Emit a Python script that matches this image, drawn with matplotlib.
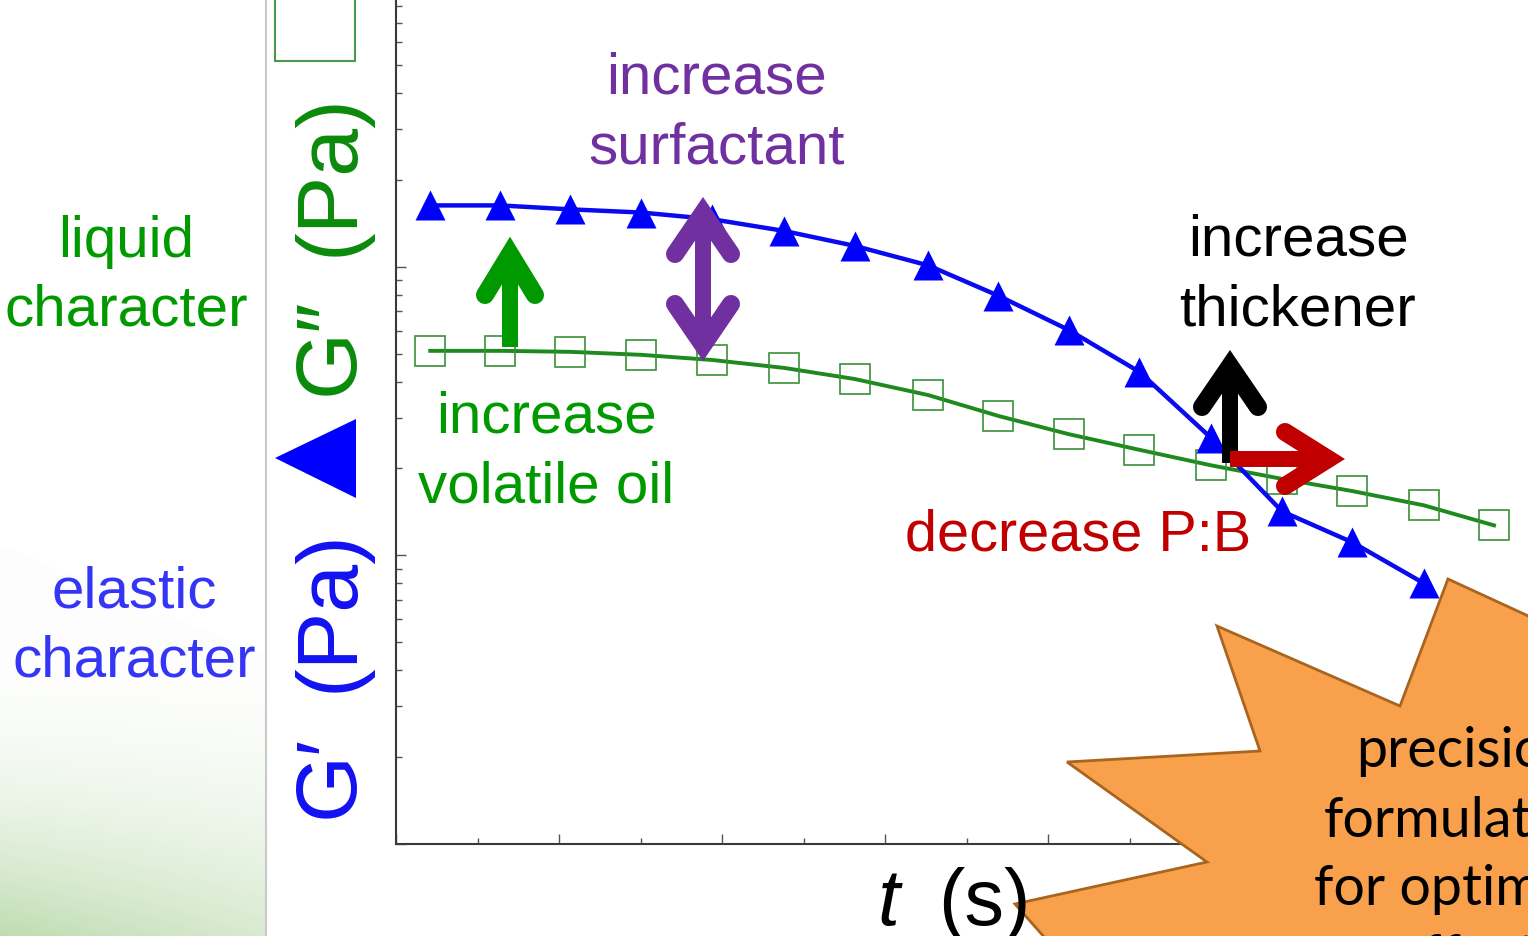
import numpy as np
import matplotlib
matplotlib.use("Agg")
import matplotlib.pyplot as plt
from matplotlib.patches import Polygon, Rectangle
from matplotlib.ticker import MultipleLocator, LogLocator, NullFormatter

# values (log y, linear t)
t_sweep = [4.2, 12.8, 21.3, 30.1, 38.8, 47.6, 56.3, 65.3, 73.9, 82.5,
           91.2, 100.0, 108.7, 117.3, 126.1, 134.7]
g_storage = [163, 163, 158, 154, 146, 133, 118, 101, 79.3, 60.4,
             43.2, 25.5, 14.2, 11.1, 8.0]          # G' (last point hidden)
g_loss = [51.1, 51.1, 50.7, 49.5, 47.5, 44.6, 40.8, 35.9, 30.4, 26.3,
          23.2, 20.5, 18.4, 16.7, 14.9, 12.7]       # G''

W, H = 1528, 937
SANS = "Liberation Sans"

fig = plt.figure(figsize=(W / 100, H / 100), dpi=100, facecolor="white")

# --- slide background (left panel with faint green wash) ---
bg = fig.add_axes([0, 0, 1, 1], zorder=0)
pw = 265
yy, xx = np.mgrid[0:H, 0:pw]
edge = 545 + 0.42 * xx
depth = np.clip((yy - 660) / 277.0, 0, 1)
a = np.where(yy > edge, 0.03 + 0.9 * depth ** 1.8 * (1 - 0.4 * xx / pw), 0.0)
green = np.array([186, 218, 172]) / 255
img = 1 - a[..., None] * (1 - green)
bg.imshow(img, extent=(0, pw, H, 0), aspect="auto", interpolation="bilinear")
bg.plot([266, 266], [0, H], color="#c9c9c9", lw=1.5)
bg.set_xlim(0, W); bg.set_ylim(H, 0)
bg.axis("off")

# --- the rheology plot ---
ax = fig.add_axes([396 / W, (H - 845) / H, (1600 - 396) / W, (845 + 21) / H], zorder=1)
ax.set_facecolor("none")
ax.set_yscale("log")
ax.set_ylim(1, 1000)
ax.set_xlim(0, 147.7)
ax.plot(t_sweep[:len(g_storage)], g_storage, color="#0a0af0", lw=3.2,
        marker="^", ms=21, mec="none", mfc="#0000ff", zorder=3)
ax.plot(t_sweep, g_loss, color="#1e8a1e", lw=2.8, zorder=2)
ax.plot(t_sweep, g_loss, ls="none", marker="s", ms=21, mfc="none",
        mec="#3a8f3a", mew=1.2, zorder=2)

ax.xaxis.set_major_locator(MultipleLocator(20))
ax.xaxis.set_minor_locator(MultipleLocator(10))
ax.yaxis.set_major_locator(LogLocator(base=10))
ax.yaxis.set_minor_locator(LogLocator(base=10, subs=np.arange(2, 10)))
ax.xaxis.set_major_formatter(NullFormatter())
ax.xaxis.set_minor_formatter(NullFormatter())
ax.yaxis.set_major_formatter(NullFormatter())
ax.yaxis.set_minor_formatter(NullFormatter())
ax.tick_params(which="both", direction="in", color="#555555", width=1)
ax.tick_params(which="major", length=7)
ax.tick_params(which="minor", length=4)
for side in ("top", "right"):
    ax.spines[side].set_visible(False)
for side in ("left", "bottom"):
    ax.spines[side].set_color("#3a3a3a")
    ax.spines[side].set_linewidth(1.5)

# --- overlay in pixel coordinates: labels, arrows, burst ---
ov = fig.add_axes([0, 0, 1, 1], zorder=3)
ov.set_xlim(0, W); ov.set_ylim(H, 0)
ov.axis("off")


def txt(x, y, s, color, size=42, **kw):
    ov.text(x, y, s, color=color, fontsize=size, family=SANS,
            ha=kw.pop("ha", "center"), va=kw.pop("va", "baseline"), **kw)


txt(717, 93, "increase", "#7030a0")
txt(717, 163, "surfactant", "#7030a0")
txt(126, 257, "liquid", "#009a00")
txt(126, 326, "character", "#009a00")
txt(134, 608, "elastic", "#3535f5")
txt(134, 677, "character", "#3535f5")
txt(546, 433, "increase", "#009a00")
txt(546, 503, "volatile oil", "#009a00")
txt(1298, 256, "increase", "black")
txt(1298, 326, "thickener", "black")
txt(1078, 551, "decrease P:B", "#c00000", size=41.5)

# axis titles
txt(877, 925, "t", "black", size=57, ha="left", style="italic")
txt(938, 925, "(s)", "black", size=57, ha="left")
for s, y0, col in [("G\u2032", 818, "#1212f2"), ("(Pa)", 692, "#1212f2"),
                   ("G\u2033", 395, "#0b8a0b"), ("(Pa)", 256, "#0b8a0b")]:
    ov.text(353, y0, s, color=col, fontsize=62, family=SANS, rotation=90,
            rotation_mode="anchor", ha="left", va="baseline")
ov.add_patch(Polygon([(275, 459), (356, 420), (356, 499)], closed=True,
                     facecolor="#0000ff", edgecolor="none"))
ov.add_patch(Rectangle((275, -20), 80, 82, facecolor="none",
                       edgecolor="#4a9a4a", lw=1.5))


def shaft(p0, p1, color):
    ov.plot([p0[0], p1[0]], [p0[1], p1[1]], color=color, lw=11.5,
            solid_capstyle="butt")


def head(apex, e1, e2, color):
    ov.plot([e1[0], apex[0], e2[0]], [e1[1], apex[1], e2[1]], color=color,
            lw=13, solid_joinstyle="miter", solid_capstyle="round")


# green: increase volatile oil
shaft((510, 348), (510, 258), "#009a00")
head((510, 255), (485, 296), (535, 296), "#009a00")
# purple: increase surfactant (double headed)
shaft((703, 216), (703, 344), "#7030a0")
head((703, 214), (675, 255), (731, 255), "#7030a0")
head((703, 346), (675, 305), (731, 305), "#7030a0")
# black: increase thickener
shaft((1230, 464), (1230, 370), "black")
head((1230, 367), (1202, 408), (1258, 408), "black")
# red: decrease P:B
shaft((1230, 460), (1325, 460), "#c00000")
head((1328, 460), (1285, 433), (1285, 487), "#c00000")

# orange burst
burst = [(1600, 650), (1448, 580), (1400, 707), (1217, 627), (1260, 752),
         (1067, 763), (1207, 863), (1015, 905), (1090, 990), (1600, 990)]
ov.add_patch(Polygon(burst, closed=True, facecolor="#f9a04c",
                     edgecolor="#a8651f", lw=2, joinstyle="miter"))
for s, y0 in [("precision", 767), ("formulation", 837),
              ("for optimum", 905), ("effect", 974)]:
    ov.text(1466, y0, s, color="black", fontsize=40, family="Lato",
            ha="center", va="baseline")

fig.savefig("out.png", dpi=100)
